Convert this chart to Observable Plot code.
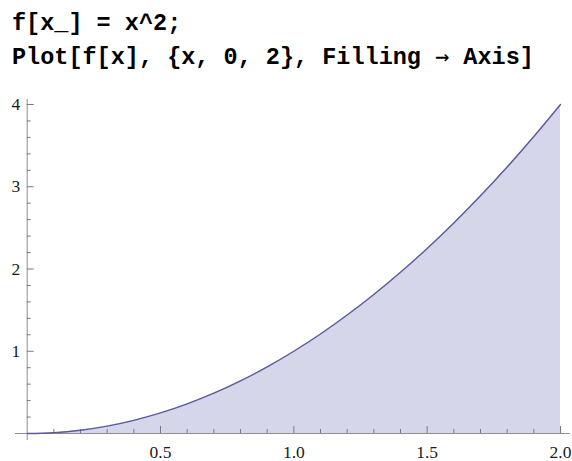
<!DOCTYPE html>
<html>
<head>
<meta charset="utf-8">
<script src="https://cdn.jsdelivr.net/npm/d3@7"></script>
<script src="https://cdn.jsdelivr.net/npm/@observablehq/plot@0.6"></script>
<style>
  body { margin: 0; background: #fff; }
  #code {
    height: 80px;
    box-sizing: border-box;
    padding: 7.5px 0 0 12px;
    font: bold 23.5px/32.5px "Liberation Mono", monospace;
    color: #000;
    white-space: pre;
  }
  #code .arrow { font-family: "DejaVu Sans Mono", monospace; font-weight: normal; }
  #chart svg { display: block; overflow: visible; }
</style>
</head>
<body>
<div id="code"><div>f[x_] = x^2;</div><div>Plot[f[x], {x, 0, 2}, Filling <span class="arrow">→</span> Axis]</div></div>
<div id="chart"></div>
<script>
// sampled points of the curve
const xs = [0, 0.1, 0.2, 0.3, 0.4, 0.5, 0.6, 0.7, 0.8, 0.9, 1.0,
            1.1, 1.2, 1.3, 1.4, 1.5, 1.6, 1.7, 1.8, 1.9, 2.0];
const ys = [0, 0.01, 0.04, 0.09, 0.16, 0.25, 0.36, 0.49, 0.64, 0.81, 1.0,
            1.21, 1.44, 1.69, 1.96, 2.25, 2.56, 2.89, 3.24, 3.61, 4.0];

// tick positions
const xMajor = [0.5, 1.0, 1.5, 2.0];
const xMinor = [0.1, 0.2, 0.3, 0.4, 0.6, 0.7, 0.8, 0.9,
                1.1, 1.2, 1.3, 1.4, 1.6, 1.7, 1.8, 1.9];
const yMajor = [1, 2, 3, 4];
const yMinor = [0.2, 0.4, 0.6, 0.8, 1.2, 1.4, 1.6, 1.8,
                2.2, 2.4, 2.6, 2.8, 3.2, 3.4, 3.6, 3.8];

const points = xs.map((x, i) => ({x, y: ys[i]}));

const axisColor = "#8e8e8e";
const tickColor = "#7a7a7a";

const chart = Plot.plot({
  width: 572,
  height: 381,
  marginLeft: 26.7,
  marginRight: 12,
  marginTop: 24,
  marginBottom: 28,
  x: {domain: [0, 2]},
  y: {domain: [0, 4]},
  style: {fontFamily: "'Liberation Serif', serif", fontSize: "17.5px", color: "#1a1a1a", background: "#fff"},
  marks: [
    // filled region down to the axis
    Plot.areaY(points, {x: "x", y: "y", fill: "#d6d6eb", curve: "natural"}),
    // axis lines, running slightly past the data range
    Plot.ruleY([0], {x1: -0.044, x2: 2.037, stroke: axisColor, strokeWidth: 1}),
    Plot.ruleX([0], {y1: -0.085, y2: 4.06, stroke: axisColor, strokeWidth: 1}),
    // inward ticks
    Plot.ruleX(xMinor, {x: d => d, y1: 0, y2: 0, insetTop: -4, stroke: tickColor}),
    Plot.ruleX(xMajor, {x: d => d, y1: 0, y2: 0, insetTop: -7, stroke: tickColor}),
    Plot.ruleY(yMinor, {y: d => d, x1: 0, x2: 0, insetRight: -4, stroke: tickColor}),
    Plot.ruleY(yMajor, {y: d => d, x1: 0, x2: 0, insetRight: -7, stroke: tickColor}),
    // the curve
    Plot.line(points, {x: "x", y: "y", stroke: "#5a5a9e", strokeWidth: 1.4, curve: "natural"}),
    // tick labels
    Plot.axisX(xMajor, {tickSize: 0, tickPadding: 12, tickFormat: d => d.toFixed(1), label: null, fill: "#1a1a1a"}),
    Plot.axisY(yMajor, {tickSize: 0, tickPadding: 7, tickFormat: d => String(d), label: null, fill: "#1a1a1a"})
  ]
});

document.getElementById("chart").append(chart);
</script>
</body>
</html>
